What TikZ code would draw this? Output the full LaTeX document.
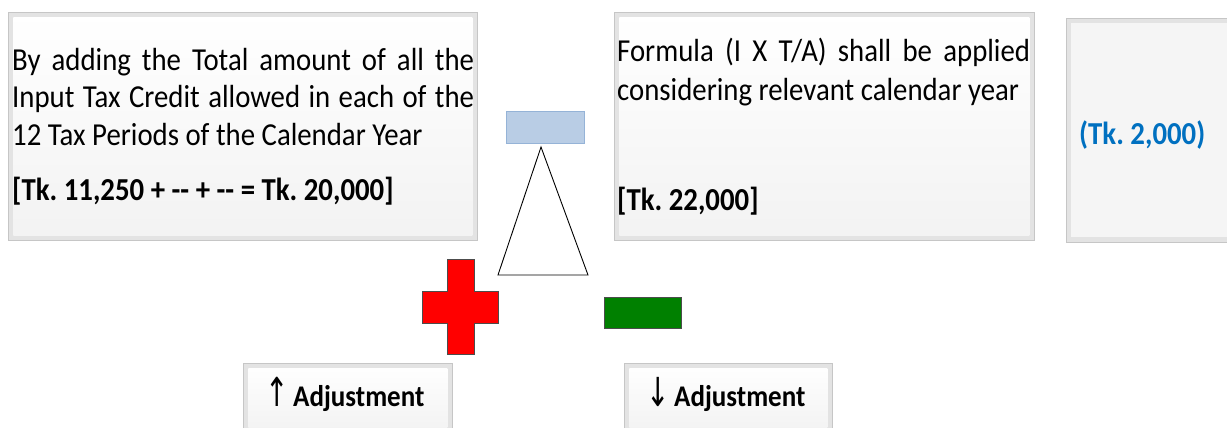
\documentclass[tikz,border=0pt]{standalone}
\usepackage{fontspec}
\setmainfont{Carlito}[FakeStretch=0.9]
\newfontfamily\arrowfont{DejaVu Sans}[FakeStretch=0.7]
\definecolor{txtblue}{HTML}{0070C0}
\definecolor{lblue}{HTML}{B9CDE5}
\definecolor{lblueb}{HTML}{95B3D7}
\definecolor{crossred}{HTML}{FF0000}
\definecolor{minusgreen}{HTML}{008000}
\begin{document}
\frenchspacing
\begin{tikzpicture}[x=1pt,y=-1pt,
  bevel/.style={draw=gray!45, line width=0.8pt, fill=gray!22, inner sep=0pt, anchor=north west,
    path picture={\shade[top color=white, bottom color=gray!10]
      ([shift={(5pt,-5pt)}]path picture bounding box.north west) rectangle
      ([shift={(-5pt,5pt)}]path picture bounding box.south east);}},
  greybox/.style={bevel, path picture={\fill[gray!8]
      ([shift={(5pt,-5pt)}]path picture bounding box.north west) rectangle
      ([shift={(-5pt,5pt)}]path picture bounding box.south east);}},
  body/.style={anchor=base west, inner sep=0pt, font=\fontsize{32}{38}\selectfont},
  bodyb/.style={body, font=\fontsize{32}{38}\selectfont\bfseries},
  adjtext/.style={inner sep=0pt, font=\fontsize{30}{34}\selectfont\bfseries},
  arrowglyph/.style={inner sep=0pt, font=\arrowfont\fontsize{40}{44}\selectfont}]
\useasboundingbox (0,0) rectangle (1227,428);
\clip (0,0) rectangle (1227,428);

% box 1
\node[bevel, minimum width=469pt, minimum height=228pt] (b1) at (8,12) {};
\node[body] (b1l1) at (12,70.5) {\makebox[462pt][s]{By adding the Total amount of all the}};
\node[body] (b1l2) at (12,107.5) {\makebox[462pt][s]{Input Tax Credit allowed in each of the}};
\node[body] (b1l3) at (12,145) {12 Tax Periods of the Calendar Year};
\node[bodyb] (b1l4) at (12,200) {[Tk. 11,250 + -{}- + -{}- = Tk. 20,000]};

% box 2
\node[bevel, minimum width=420pt, minimum height=228pt] (b2) at (614,12) {};
\node[body] (b2l1) at (617,62) {\makebox[413pt][s]{Formula (I X T/A) shall be applied}};
\node[body] (b2l2) at (617,100) {considering relevant calendar year};
\node[bodyb] (b2l3) at (617,210) {[Tk. 22,000]};

% box 3
\node[greybox, minimum width=200pt, minimum height=224pt] (b3) at (1066,18) {};
\node[bodyb, text=txtblue] (b3l1) at (1079,144) {(Tk. 2,000)};

% small blue rectangle and triangle
\node[draw=lblueb, fill=lblue, line width=0.8pt, minimum width=78pt, minimum height=32pt, inner sep=0pt, anchor=north west] (brect) at (506,111) {};
\coordinate (apex) at (541,147);
\coordinate (bl) at (498,275);
\coordinate (br) at (588,275);
\draw[black, line width=0.9pt, fill=white] (apex) -- (bl) -- (br) -- cycle;

% red plus
\draw[fill=crossred, draw=black!70, line width=0.8pt]
  (447,259) -- (474,259) -- (474,291) -- (498,291) -- (498,323) -- (474,323)
  -- (474,354) -- (447,354) -- (447,323) -- (422,323) -- (422,291) -- (447,291) -- cycle;

% green minus
\node[draw=black!70, fill=minusgreen, line width=0.8pt, minimum width=77pt, minimum height=31pt, inner sep=0pt, anchor=north west] (minus) at (604,297) {};

% adjustment boxes
\node[bevel, minimum width=209pt, minimum height=70pt] (adjup) at (243,363) {};
\node[arrowglyph, anchor=base west] (adjupa) at (265,406) {↑};
\node[adjtext, anchor=base west] (adjupt) at (293,406) {Adjustment};
\node[bevel, minimum width=208pt, minimum height=70pt] (adjdn) at (624,363) {};
\node[arrowglyph, anchor=base west] (adjdna) at (646,406) {↓};
\node[adjtext, anchor=base west] (adjdnt) at (674,406) {Adjustment};
\end{tikzpicture}
\end{document}
